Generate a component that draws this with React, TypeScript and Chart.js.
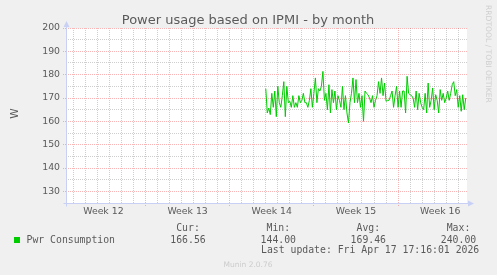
import React, { useEffect, useRef } from 'react';
import { Chart, registerables } from 'chart.js';

Chart.register(...registerables);

// ---- data ----
const chartTitle = 'Power usage based on IPMI - by month';
const yAxisTitle = 'W';
const watermark = 'RRDTOOL / TOBI OETIKER';
const footerText = 'Munin 2.0.76';
const weekNumbers = [12, 13, 14, 15, 16];
const legendLabel = 'Pwr Consumption';
const statHeaders = ['Cur:', 'Min:', 'Avg:', 'Max:'];
const statValues = ['166.56', '144.00', '169.46', '240.00'];
const lastUpdate = 'Last update: Fri Apr 17 17:16:01 2026';

// x in days, 0 = start of week 13
const xMinDay = -6.61;
const xMaxDay = 26.73;
const yMin = 125;
const yMax = 200;
const sampleStartDay = 10.0;
const sampleStepDays = 0.125; // 3-hour samples

const powerValues = [
  174, 163.6, 165.7, 162.9, 172, 166, 173, 162, 175, 168,
  166, 171, 177, 162, 175, 168, 168.6, 166, 171, 166,
  168, 166, 171, 168, 169, 172, 168, 168, 166, 169,
  174, 166, 172, 178.6, 168, 174, 173, 175, 181.4, 169,
  172, 165, 175.7, 163.6, 173.6, 168, 173, 165, 171, 169,
  166, 175, 165, 171, 163.6, 159.3, 168, 172, 178.6, 168,
  177.9, 168, 172, 166, 171, 160, 173, 172, 171.4, 170,
  168, 171, 166, 169, 171, 177, 172, 178.6, 171, 176.4,
  168.6, 169, 169, 171, 173, 166, 171, 175, 166, 173,
  166, 173, 173, 163.6, 179.3, 172, 171.4, 171, 170, 166,
  173, 165, 172, 168, 166, 165, 172, 163.6, 176.4, 166,
  169, 174.3, 165, 171.4, 169, 163.6, 173.6, 169, 172, 168,
  170, 173, 169, 172, 175.7, 177, 171, 173.6, 166, 171,
  164.3, 171.4, 165, 170,
];

// ---- styles ----
const RED_GRID = 'rgba(240,60,60,0.38)';
const GRAY_GRID = 'rgba(120,120,120,0.36)';
const AXIS_COLOR = '#c9d0f6';
const TEXT_COLOR = '#5a5a5a';
const LINE_COLOR = '#00cc00';
const SANS = '"DejaVu Sans"';
const MONO = '"DejaVu Sans Mono"';

const muninPlugin = {
  id: 'muninDecor',
  beforeDraw(chart: any) {
    const { ctx, chartArea: a } = chart;
    ctx.save();
    ctx.fillStyle = '#f0f0f0';
    ctx.fillRect(0, 0, chart.width, chart.height);
    ctx.fillStyle = '#ffffff';
    ctx.fillRect(a.left, a.top, a.right - a.left, a.bottom - a.top);
    ctx.restore();
  },
  afterDraw(chart: any) {
    const { ctx, chartArea: a } = chart;
    ctx.save();
    // axes
    ctx.strokeStyle = AXIS_COLOR;
    ctx.fillStyle = AXIS_COLOR;
    ctx.lineWidth = 1;
    ctx.setLineDash([]);
    const ax = Math.round(a.left) + 0.5;
    const ay = Math.round(a.bottom) + 0.5;
    ctx.beginPath();
    ctx.moveTo(ax, a.top - 2);
    ctx.lineTo(ax, ay + 3);
    ctx.moveTo(ax - 3, ay);
    ctx.lineTo(a.right + 1, ay);
    ctx.stroke();
    ctx.beginPath();
    ctx.moveTo(ax - 3, a.top - 1);
    ctx.lineTo(ax + 3, a.top - 1);
    ctx.lineTo(ax, a.top - 7);
    ctx.closePath();
    ctx.fill();
    ctx.beginPath();
    ctx.moveTo(a.right + 1, ay - 3);
    ctx.lineTo(a.right + 1, ay + 3);
    ctx.lineTo(a.right + 7, ay);
    ctx.closePath();
    ctx.fill();

    // title
    ctx.fillStyle = TEXT_COLOR;
    ctx.font = `13px ${SANS}`;
    ctx.textAlign = 'center';
    ctx.textBaseline = 'alphabetic';
    ctx.fillText(chartTitle, 248, 24);

    // y axis title
    ctx.save();
    ctx.translate(15, 113.5);
    ctx.rotate(-Math.PI / 2);
    ctx.font = `10.5px ${SANS}`;
    ctx.textAlign = 'center';
    ctx.textBaseline = 'middle';
    ctx.fillText(yAxisTitle, 0, 0);
    ctx.restore();

    // watermark
    ctx.save();
    ctx.translate(487.5, 5);
    ctx.rotate(Math.PI / 2);
    ctx.font = `7.6px ${SANS}`;
    ctx.fillStyle = '#cfcfcf';
    ctx.textAlign = 'left';
    ctx.textBaseline = 'middle';
    ctx.fillText(watermark, 0, 0);
    ctx.restore();

    // legend
    ctx.fillStyle = LINE_COLOR;
    ctx.fillRect(14, 237, 6, 6);
    ctx.fillStyle = TEXT_COLOR;
    ctx.font = `9.8px ${MONO}`;
    ctx.textAlign = 'left';
    ctx.fillText(legendLabel, 26.5, 242.7);
    const cols = [188, 278.3, 368.3, 458.5];
    ctx.textAlign = 'center';
    statHeaders.forEach((h, i) => ctx.fillText(h, cols[i], 231));
    statValues.forEach((v, i) => ctx.fillText(v, cols[i], 242.7));
    ctx.textAlign = 'left';
    ctx.fillText(lastUpdate, 261, 253);

    // footer
    ctx.font = `7.5px ${SANS}`;
    ctx.fillStyle = '#cccccc';
    ctx.textAlign = 'center';
    ctx.fillText(footerText, 248, 266.5);
    ctx.restore();
  },
};

const isMajorX = (v: number) => Number.isInteger(v) && ((v % 7) + 7) % 7 === 0;

export default function App() {
  const ref = useRef<HTMLCanvasElement>(null);
  useEffect(() => {
    document.body.style.margin = '0';
    const canvas = ref.current!;
    const chart = new Chart(canvas, {
      type: 'line',
      data: {
        datasets: [
          {
            label: legendLabel,
            data: powerValues.map((v, i) => ({ x: sampleStartDay + i * sampleStepDays, y: v })),
            borderColor: LINE_COLOR,
            borderWidth: 1,
            pointRadius: 0,
            tension: 0,
            fill: false,
          },
        ],
      },
      options: {
        animation: false,
        responsive: false,
        devicePixelRatio: 1,
        layout: { padding: { top: 28, right: 30, left: 0, bottom: 0 } },
        plugins: {
          legend: { display: false },
          tooltip: { enabled: false },
          title: { display: false },
        },
        scales: {
          x: {
            type: 'linear',
            min: xMinDay,
            max: xMaxDay,
            afterFit: (s: any) => {
              s.height = 72;
            },
            afterBuildTicks: (s: any) => {
              const t: any[] = [];
              for (let k = Math.ceil(xMinDay * 2); k <= Math.floor(xMaxDay * 2); k++) t.push({ value: k / 2 });
              s.ticks = t;
            },
            ticks: {
              autoSkip: false,
              maxRotation: 0,
              padding: 0,
              color: TEXT_COLOR,
              font: { family: 'DejaVu Sans', size: 9.33 },
              callback: (value: any) => {
                const v = Number(value);
                if (((v % 7) + 7) % 7 === 3.5) {
                  const idx = Math.floor(v / 7) + 1;
                  return weekNumbers[idx] !== undefined ? `Week ${weekNumbers[idx]}` : '';
                }
                return '';
              },
            },
            grid: {
              lineWidth: 1,
              tickLength: 3,
              borderDash: [1, 1],
              color: (c: any) => {
                const v = c.tick ? c.tick.value : 0;
                if (!Number.isInteger(v)) return 'rgba(0,0,0,0)';
                return isMajorX(v) ? RED_GRID : GRAY_GRID;
              },
              tickColor: (c: any) => {
                const v = c.tick ? c.tick.value : 0;
                return isMajorX(v) ? RED_GRID : 'rgba(0,0,0,0)';
              },
              tickBorderDash: [1, 1],
            },
            border: { display: false, dash: [1, 1] },
          },
          y: {
            min: yMin,
            max: yMax,
            afterFit: (s: any) => {
              s.width = 66;
            },
            ticks: {
              stepSize: 5,
              autoSkip: false,
              padding: 3,
              color: TEXT_COLOR,
              font: { family: 'DejaVu Sans', size: 9.33 },
              callback: (value: any) => (Number(value) % 10 === 0 ? String(value) : ''),
            },
            grid: {
              lineWidth: 1,
              tickLength: 3,
              borderDash: [1, 1],
              color: (c: any) => {
                const v = c.tick ? c.tick.value : 0;
                if (v === yMin) return 'rgba(0,0,0,0)';
                return v % 10 === 0 ? RED_GRID : GRAY_GRID;
              },
              tickColor: (c: any) => {
                const v = c.tick ? c.tick.value : 0;
                return v % 10 === 0 && v !== yMin ? RED_GRID : 'rgba(0,0,0,0)';
              },
              tickBorderDash: [1, 1],
            },
            border: { display: false, dash: [1, 1] },
          },
        },
      },
      plugins: [muninPlugin],
    } as any);
    return () => chart.destroy();
  }, []);

  return (
    <div style={{ position: 'absolute', left: 0, top: 0, width: 497, height: 275, background: '#f0f0f0' }}>
      <canvas ref={ref} width={497} height={275} style={{ display: 'block', width: 497, height: 275 }} />
    </div>
  );
}
